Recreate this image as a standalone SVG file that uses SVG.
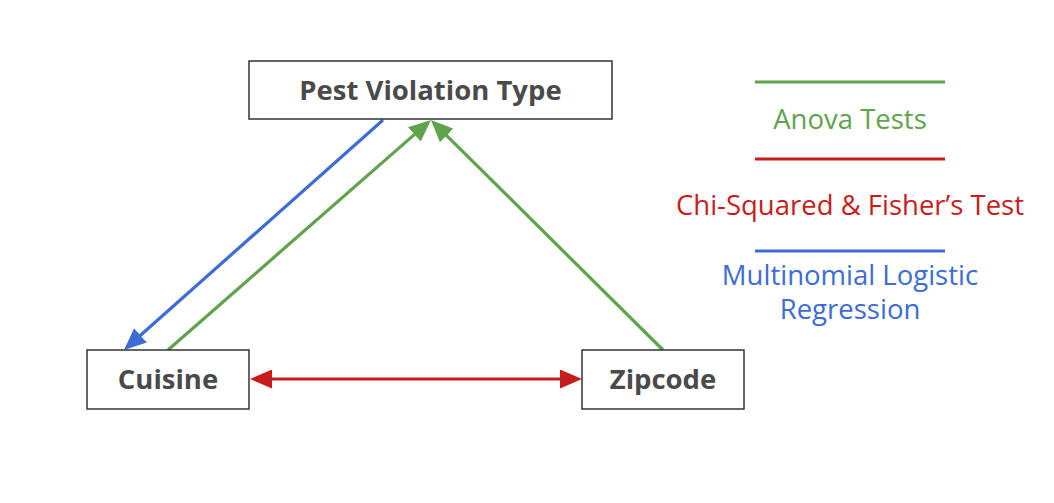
<svg xmlns="http://www.w3.org/2000/svg" width="1054" height="503" viewBox="0 0 1054 503">
<style>
.box{fill:#fff;stroke:#333;stroke-width:1.5}
.lbl{font-family:"Open Sans",sans-serif;font-weight:bold;font-size:27.5px;fill:#4a4a4a;text-anchor:middle}
.leg{font-family:"Open Sans",sans-serif;font-size:27.5px;text-anchor:middle}
.g{stroke:#5fa34c}
.r{stroke:#c81c1c}
.b{stroke:#3c6cd6}
</style>
<defs>
<marker id="ag" viewBox="0 0 22 19" refX="18" refY="9.5" markerWidth="22" markerHeight="19" markerUnits="userSpaceOnUse" orient="auto-start-reverse"><path d="M0,0L22,9.5L0,19z" fill="#5fa34c"/></marker>
<marker id="ar" viewBox="0 0 22 19" refX="18" refY="9.5" markerWidth="22" markerHeight="19" markerUnits="userSpaceOnUse" orient="auto-start-reverse"><path d="M0,0L22,9.5L0,19z" fill="#c81c1c"/></marker>
<marker id="ab" viewBox="0 0 22 19" refX="18" refY="9.5" markerWidth="22" markerHeight="19" markerUnits="userSpaceOnUse" orient="auto-start-reverse"><path d="M0,0L22,9.5L0,19z" fill="#3c6cd6"/></marker>
</defs>
<rect width="1054" height="503" fill="#fff"/>
<g id="connectors" fill="none" stroke-width="3.2">
<line class="b" x1="383" y1="120" x2="127" y2="347.3" marker-end="url(#ab)"/>
<line class="g" x1="168" y1="350" x2="428" y2="122.6" marker-end="url(#ag)"/>
<line class="g" x1="663" y1="350" x2="433.8" y2="122.8" marker-end="url(#ag)"/>
<line class="r" x1="254" y1="379" x2="578" y2="379" marker-start="url(#ar)" marker-end="url(#ar)"/>
</g>
<g id="pest"><rect class="box" x="249" y="61" width="363" height="58"/><text class="lbl" x="430.5" y="100">Pest Violation Type</text></g>
<g id="cuisine"><rect class="box" x="87" y="350" width="162" height="59"/><text class="lbl" x="168" y="389">Cuisine</text></g>
<g id="zipcode"><rect class="box" x="582" y="350" width="162" height="59"/><text class="lbl" x="663" y="389">Zipcode</text></g>
<g id="legend" stroke-width="3.2">
<line class="g" x1="755" y1="82" x2="945" y2="82"/>
<text class="leg" x="850" y="129" fill="#5fa34c">Anova Tests</text>
<line class="r" x1="755" y1="159" x2="945" y2="159"/>
<text class="leg" x="850" y="215" fill="#c81c1c">Chi-Squared &amp; Fisher’s Test</text>
<line class="b" x1="755" y1="251" x2="945" y2="251"/>
<text class="leg" x="850" y="285" fill="#3c6cd6">Multinomial Logistic</text>
<text class="leg" x="850" y="319" fill="#3c6cd6">Regression</text>
</g>
</svg>
